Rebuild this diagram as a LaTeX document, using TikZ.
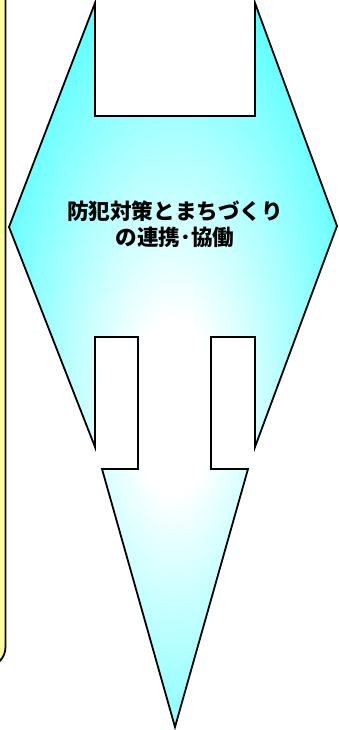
\documentclass[tikz,border=0pt]{standalone}
\usepackage{fontspec}
\newfontfamily\jp{Noto Sans CJK JP}
\definecolor{boxyellow}{HTML}{FFFF99}
\definecolor{arrcyan}{HTML}{22FFFF}
\pgfdeclareradialshading{arrowglow}{\pgfpoint{0bp}{-3bp}}{%
  color(0bp)=(white); color(6bp)=(white); color(38bp)=(arrcyan); color(100bp)=(arrcyan)}
\tikzset{
  outline/.style={draw=black, line width=1.8pt, line join=miter},
  panel/.style={draw=black, line width=1.8pt, fill=boxyellow, rounded corners=20pt},
  title/.style={font=\jp\bfseries\fontsize{21.6pt}{26pt}\selectfont, align=center, text=black, inner sep=0pt}
}
\begin{document}
\begin{tikzpicture}[x=1pt,y=-1pt]
\useasboundingbox (0,0) rectangle (338,730);
% yellow panel on the left (mostly outside)
\path[panel] (-60,-40) rectangle (5.5,667);
% the big cyan arrow shape
\path[outline, shading=arrowglow]
  (95,3) -- (95,116) -- (255,116) -- (255,3) -- (337,226) -- (255,447)
  -- (255,337) -- (211,337) -- (211,469) -- (248,469) -- (175,727)
  -- (102,469) -- (138,469) -- (138,337) -- (95,337) -- (95,447)
  -- (9,227) -- cycle;
\node[title] (t) at (175,224) {防犯対策とまちづくり\\の連携･協働};
\end{tikzpicture}
\end{document}
